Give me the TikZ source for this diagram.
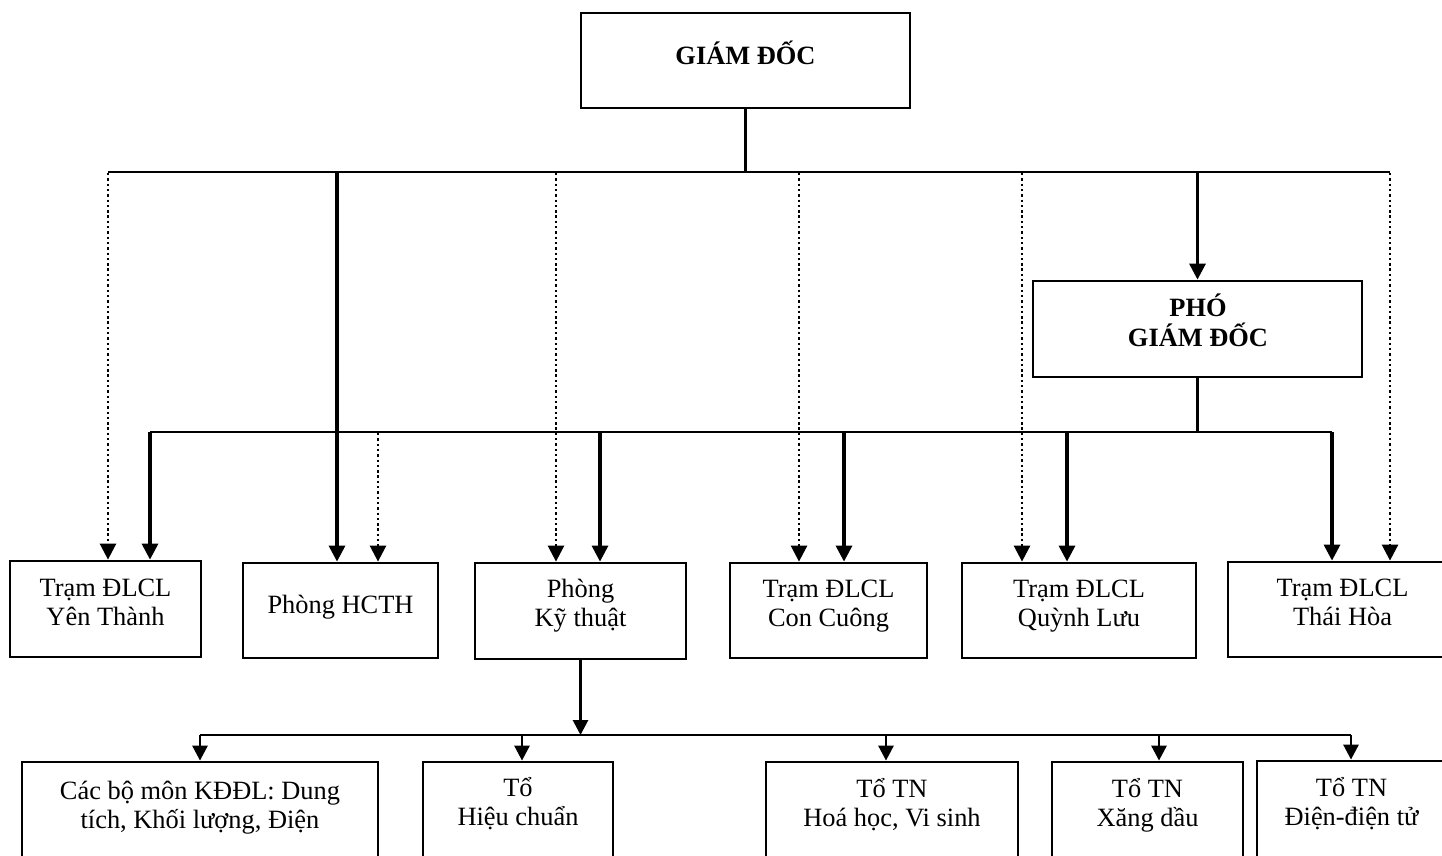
\documentclass[tikz,border=0pt]{standalone}
\usepackage{fontspec}
\setmainfont{Liberation Serif}
\usetikzlibrary{arrows.meta}
\tikzset{
  unitbox/.style={draw, line width=2.8pt, inner sep=0pt},
  lbl/.style={align=center, inner sep=0pt, font=\fontsize{26.4}{29}\selectfont},
  boldlbl/.style={align=center, inner sep=0pt, font=\fontsize{26.4}{30}\selectfont\bfseries},
  conn/.style={line width=3.2pt, -{Triangle[width=16pt,length=16pt]}},
  dotconn/.style={line width=2.6pt, dash pattern=on 2.4pt off 2.9pt, -{Triangle[width=16pt,length=16pt]}},
  smallconn/.style={line width=2.8pt, -{Triangle[width=15pt,length=15pt]}},
  bus/.style={line width=2.8pt}
}
\begin{document}
\begin{tikzpicture}[x=1pt,y=-1pt]
\useasboundingbox (0,0) rectangle (1442,855);
\clip (0,0) rectangle (1442,855);
\node[unitbox, minimum width=329pt, minimum height=95pt] (gd) at (745.5,60.5){};
\node[boldlbl] (gd-t) at (745.5,53){GIÁM ĐỐC};
\node[unitbox, minimum width=329pt, minimum height=96pt] (pgd) at (1197.5,329){};
\node[boldlbl] (pgd-t) at (1198,320){PHÓ\\GIÁM ĐỐC};
\node[unitbox, minimum width=191pt, minimum height=96pt] (yt) at (105.5,609){};
\node[lbl] (yt-t) at (105.5,602){Trạm ĐLCL\\Yên Thành};
\node[unitbox, minimum width=195pt, minimum height=95pt] (hc) at (340.5,610.5){};
\node[lbl] (hc-t) at (340.5,607){Phòng HCTH};
\node[unitbox, minimum width=211pt, minimum height=96pt] (kt) at (580.5,611){};
\node[lbl] (kt-t) at (580.5,606){Phòng\\Kỹ thuật};
\node[unitbox, minimum width=197pt, minimum height=95pt] (cc) at (828.5,610.5){};
\node[lbl] (cc-t) at (828.5,606.5){Trạm ĐLCL\\Con Cuông};
\node[unitbox, minimum width=234pt, minimum height=95pt] (ql) at (1079,610.5){};
\node[lbl] (ql-t) at (1079,606.5){Trạm ĐLCL\\Quỳnh Lưu};
\node[unitbox, minimum width=230pt, minimum height=95pt] (th) at (1343,609.5){};
\node[lbl] (th-t) at (1342.5,602.5){Trạm ĐLCL\\Thái Hòa};
\node[unitbox, minimum width=356pt, minimum height=118pt] (bm) at (200,821){};
\node[lbl] (bm-t) at (200,808){Các bộ môn KĐĐL: Dung\\tích, Khối lượng, Điện};
\node[unitbox, minimum width=190pt, minimum height=118pt] (hcn) at (518,821){};
\node[lbl] (hcn-t) at (518,803.5){Tổ\\Hiệu chuẩn};
\node[unitbox, minimum width=252pt, minimum height=118pt] (hh) at (892,821){};
\node[lbl] (hh-t) at (892,805){Tổ TN\\Hoá học, Vi sinh};
\node[unitbox, minimum width=191pt, minimum height=118pt] (xd) at (1147.5,821){};
\node[lbl] (xd-t) at (1147.5,805){Tổ TN\\Xăng dầu};
\node[unitbox, minimum width=190pt, minimum height=118pt] (dt) at (1352,820){};
\node[lbl] (dt-t) at (1351.5,804){Tổ TN\\Điện-điện tử};
\coordinate (busA-l) at (108,172);
\coordinate (busA-r) at (1390,172);
\coordinate (busB-l) at (150,432);
\coordinate (busB-r) at (1332,432);
\coordinate (busC-l) at (200,735);
\coordinate (busC-r) at (1351,735);
\draw[bus] (gd.south) -- (gd.south |- busA-l);
\draw[bus] (busA-l) -- (busA-r);
\foreach \x/\n in {108/yt,556/kt,799/cc,1022/ql,1390/th} \draw[dotconn] (\x,173) -- (\x,173 |- \n.north);
\draw[conn] (337,172) -- (337,172 |- hc.north);
\draw[conn] (pgd.north |- busA-l) -- (pgd.north);
\draw[bus] (pgd.south) -- (pgd.south |- busB-l);
\draw[bus] (busB-l) -- (busB-r);
\foreach \x/\n in {150/yt,600/kt,844/cc,1067/ql,1332/th} \draw[conn] (\x,432) -- (\x,432 |- \n.north);
\draw[dotconn] (378,433) -- (378,433 |- hc.north);
\draw[smallconn] (kt.south) -- (kt.south |- busC-l);
\draw[bus] (busC-l) -- (busC-r);
\foreach \x/\n in {200/bm,522/hcn,886/hh,1159/xd,1351/dt} \draw[smallconn] (\x,735) -- (\x,735 |- \n.north);
\end{tikzpicture}
\end{document}
